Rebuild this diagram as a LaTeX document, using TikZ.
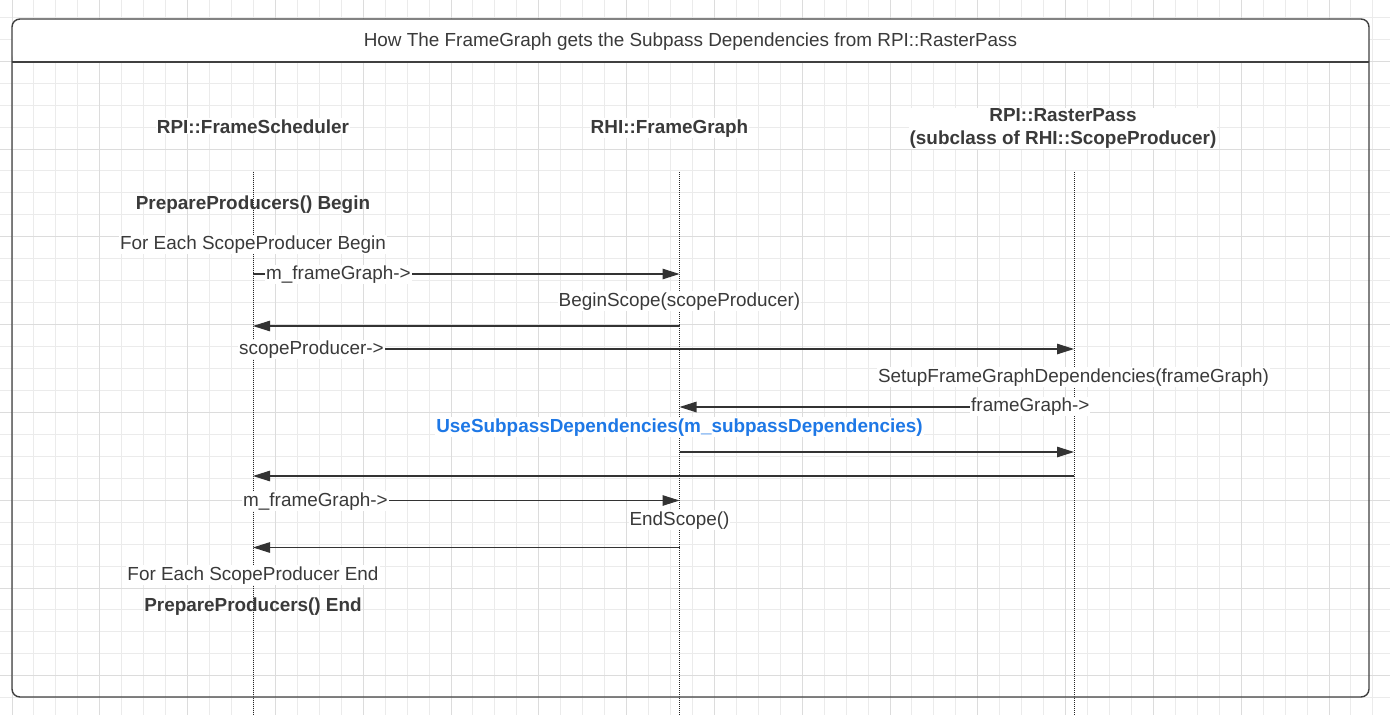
\documentclass[tikz,border=0pt]{standalone}
\usepackage{fontspec}
\setmainfont{Liberation Sans}
\usetikzlibrary{arrows.meta}
\definecolor{txt}{HTML}{3A3A3A}
\definecolor{ln}{HTML}{333333}
\definecolor{gminor}{HTML}{EBEBEB}
\definecolor{gmajor}{HTML}{DCDCDC}
\definecolor{blu}{HTML}{1E78E6}
\tikzset{
  lbl/.style={font=\fontsize{18.9}{23}\selectfont, text=txt, fill=white, inner xsep=1pt, inner ysep=1pt, anchor=base},
  plain/.style={font=\fontsize{18.9}{23}\selectfont, text=txt, inner sep=1pt, anchor=base},
  hdr/.style={lbl, font=\fontsize{18.9}{23}\selectfont\bfseries, align=center},
  msg/.style={draw=ln, line width=1.1pt, -{Triangle[length=17pt,width=10.5pt]}},
  life/.style={draw=black!85, line width=1pt, dash pattern=on 1pt off 1pt},
}
\begin{document}
\begin{tikzpicture}[x=1pt,y=-1pt]
\useasboundingbox (0,0) rectangle (1390,715);
\fill[white] (0,0) rectangle (1390,715);
% grid
\foreach \k in {0,...,62} {\pgfmathsetmacro\xx{12+21.95*\k}\draw[gminor,line width=1pt] (\xx,0) -- (\xx,715);}
\foreach \k in {0,...,31} {\pgfmathsetmacro\yy{17.3+21.95*\k}\draw[gminor,line width=1pt] (0,\yy) -- (1390,\yy);}
\foreach \k in {0,...,15} {\pgfmathsetmacro\xx{12+87.8*\k}\draw[gmajor,line width=1pt] (\xx,0) -- (\xx,715);}
\foreach \k in {0,...,7} {\pgfmathsetmacro\yy{61.2+87.8*\k}\draw[gmajor,line width=1pt] (0,\yy) -- (1390,\yy);}
% header band
\fill[white, rounded corners=8pt] (12,62) -- (12,19) -- (1369,19) -- (1369,62) -- cycle;
% lifelines
\coordinate (L1) at (253,172); \coordinate (L1e) at (253,715);
\coordinate (L2) at (679.5,172); \coordinate (L2e) at (679.5,715);
\coordinate (L3) at (1074,172); \coordinate (L3e) at (1074,715);
\draw[life] (L1) -- (L1e);
\draw[life] (L2) -- (L2e);
\draw[life] (L3) -- (L3e);
% messages
\draw[msg] (L1 |- 0,274) -- (L2 |- 0,274);
\draw[msg] (L2 |- 0,326) -- (L1 |- 0,326);
\draw[msg] (L1 |- 0,349) -- (L3 |- 0,349);
\draw[msg] (L3 |- 0,407) -- (L2 |- 0,407);
\draw[msg] (L2 |- 0,452) -- (L3 |- 0,452);
\draw[msg] (L3 |- 0,476) -- (L1 |- 0,476);
\draw[msg] (L1 |- 0,500.5) -- (L2 |- 0,500.5);
\draw[msg] (L2 |- 0,547.5) -- (L1 |- 0,547.5);
% frame
\draw[draw=black!75, line width=1.4pt, rounded corners=8pt] (12,19) rectangle (1369,697);
\draw[draw=black!75, line width=1.4pt] (12,62) -- (1369,62);
% texts
\node[plain] (title) at (690.5,46.5) {How The FrameGraph gets the Subpass Dependencies from RPI::RasterPass};
\node[hdr] (hFS) at (253,133) {RPI::FrameScheduler};
\node[hdr] (hFG) at (669.5,133) {RHI::FrameGraph};
\node[hdr, anchor=center] (hRP) at (1063,128.5) {RPI::RasterPass\\(subclass of RHI::ScopeProducer)};
\node[plain, font=\fontsize{18.9}{23}\selectfont\bfseries] (ppb) at (253,209) {PrepareProducers() Begin};
\node[lbl] (feb) at (253,249.5) {For Each ScopeProducer Begin};
\node[lbl, anchor=base west] (m1) at (265,279.3) {m\_frameGraph->};
\node[lbl] (bs) at (679.5,306) {BeginScope(scopeProducer)};
\node[lbl, anchor=base west] (m2) at (238,354.5) {scopeProducer->};
\node[lbl] (sfg) at (1073.5,382) {SetupFrameGraphDependencies(frameGraph)};
\node[lbl, anchor=base west] (m3) at (970,411.5) {frameGraph->};
\node[lbl, text=blu, font=\fontsize{18.9}{23}\selectfont\bfseries] (usd) at (679.5,432) {UseSubpassDependencies(m\_subpassDependencies)};
\node[lbl, anchor=base west] (m4) at (242,506) {m\_frameGraph->};
\node[lbl] (es) at (679.5,525) {EndScope()};
\node[lbl] (fee) at (253,580) {For Each ScopeProducer End};
\node[plain, font=\fontsize{18.9}{23}\selectfont\bfseries] (ppe) at (253,611) {PrepareProducers() End};
\end{tikzpicture}
\end{document}
